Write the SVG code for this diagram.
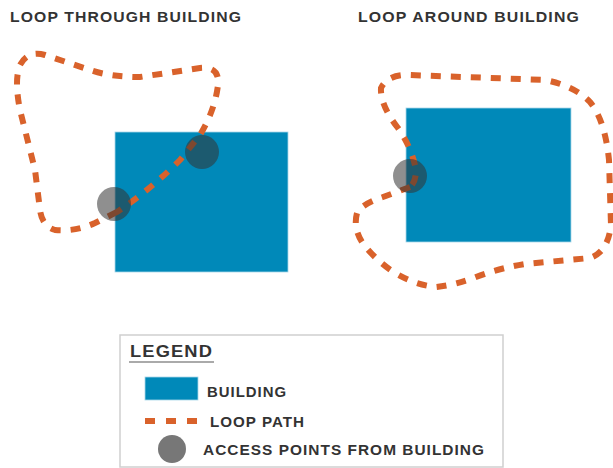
<svg xmlns="http://www.w3.org/2000/svg" width="613" height="468" viewBox="0 0 613 468">
<style>
.bld{fill:#0089b9;stroke:#a9d6e8;stroke-width:0.8}
.loop{fill:none;stroke:#d9622b;stroke-width:6;stroke-dasharray:10 10}
.ap{fill:#333;fill-opacity:0.55}
.t{font-family:"Liberation Sans",Arial,sans-serif;font-weight:bold;fill:#333;letter-spacing:1px}
</style>
<rect width="613" height="468" fill="#fff"/>
<g id="title-through"><text class="t" x="10" y="22" font-size="14" textLength="232" lengthAdjust="spacingAndGlyphs">LOOP THROUGH BUILDING</text></g>
<g id="title-around"><text class="t" x="358" y="22" font-size="14" textLength="222" lengthAdjust="spacingAndGlyphs">LOOP AROUND BUILDING</text></g>
<g id="building-left"><rect class="bld" x="115" y="132" width="173" height="140"/></g>
<g id="building-right"><rect class="bld" x="406" y="108" width="165" height="134"/></g>
<g id="connectors">
<path class="loop" d="M 117 212 L 95 223 Q 75 232 55 230 Q 42 226 40 210 L 35 170 L 20 110 Q 14 80 20 65 Q 28 50 45 55 L 90 70 Q 110 77 140 77 L 200 68 Q 220 66 218 85 Q 215 110 200 135 L 180 160 Q 150 190 117 212 Z"/>
<path class="loop" d="M 410 187 L 383 197 Q 362 204 357 213 Q 353 228 362 242 Q 375 260 395 273 Q 415 285 436 287 Q 455 285 476 277 Q 500 268 525 264 L 590 258 Q 608 252 611 225 L 609 160 Q 605 120 590 102 Q 575 86 545 80 L 410 75 Q 388 74 381 88 Q 380 105 398 128 Q 412 148 416 170 Q 416 182 410 187 Z"/>
</g>
<g id="access-left-1"><circle class="ap" cx="202" cy="152" r="17"/></g>
<g id="access-left-2"><circle class="ap" cx="114" cy="204" r="17"/></g>
<g id="access-right"><circle class="ap" cx="410" cy="176" r="17"/></g>
<g id="legend">
<rect x="120" y="335" width="383" height="132" fill="#fff" stroke="#cfcfcf" stroke-width="1.5"/>
<text class="t" x="130" y="357" font-size="16" textLength="83" lengthAdjust="spacingAndGlyphs">LEGEND</text>
<line x1="129" y1="362" x2="214" y2="362" stroke="#aaa" stroke-width="2"/>
<rect class="bld" x="145" y="377" width="53" height="23"/>
<text class="t" x="207" y="397" font-size="15" textLength="80" lengthAdjust="spacingAndGlyphs">BUILDING</text>
<line x1="145" y1="421" x2="198" y2="421" stroke="#d9622b" stroke-width="6" stroke-dasharray="10 11"/>
<text class="t" x="210" y="427" font-size="15" textLength="95" lengthAdjust="spacingAndGlyphs">LOOP PATH</text>
<circle cx="172" cy="449" r="14" fill="#777"/>
<text class="t" x="203" y="455" font-size="15" textLength="282" lengthAdjust="spacingAndGlyphs">ACCESS POINTS FROM BUILDING</text>
</g>
</svg>
